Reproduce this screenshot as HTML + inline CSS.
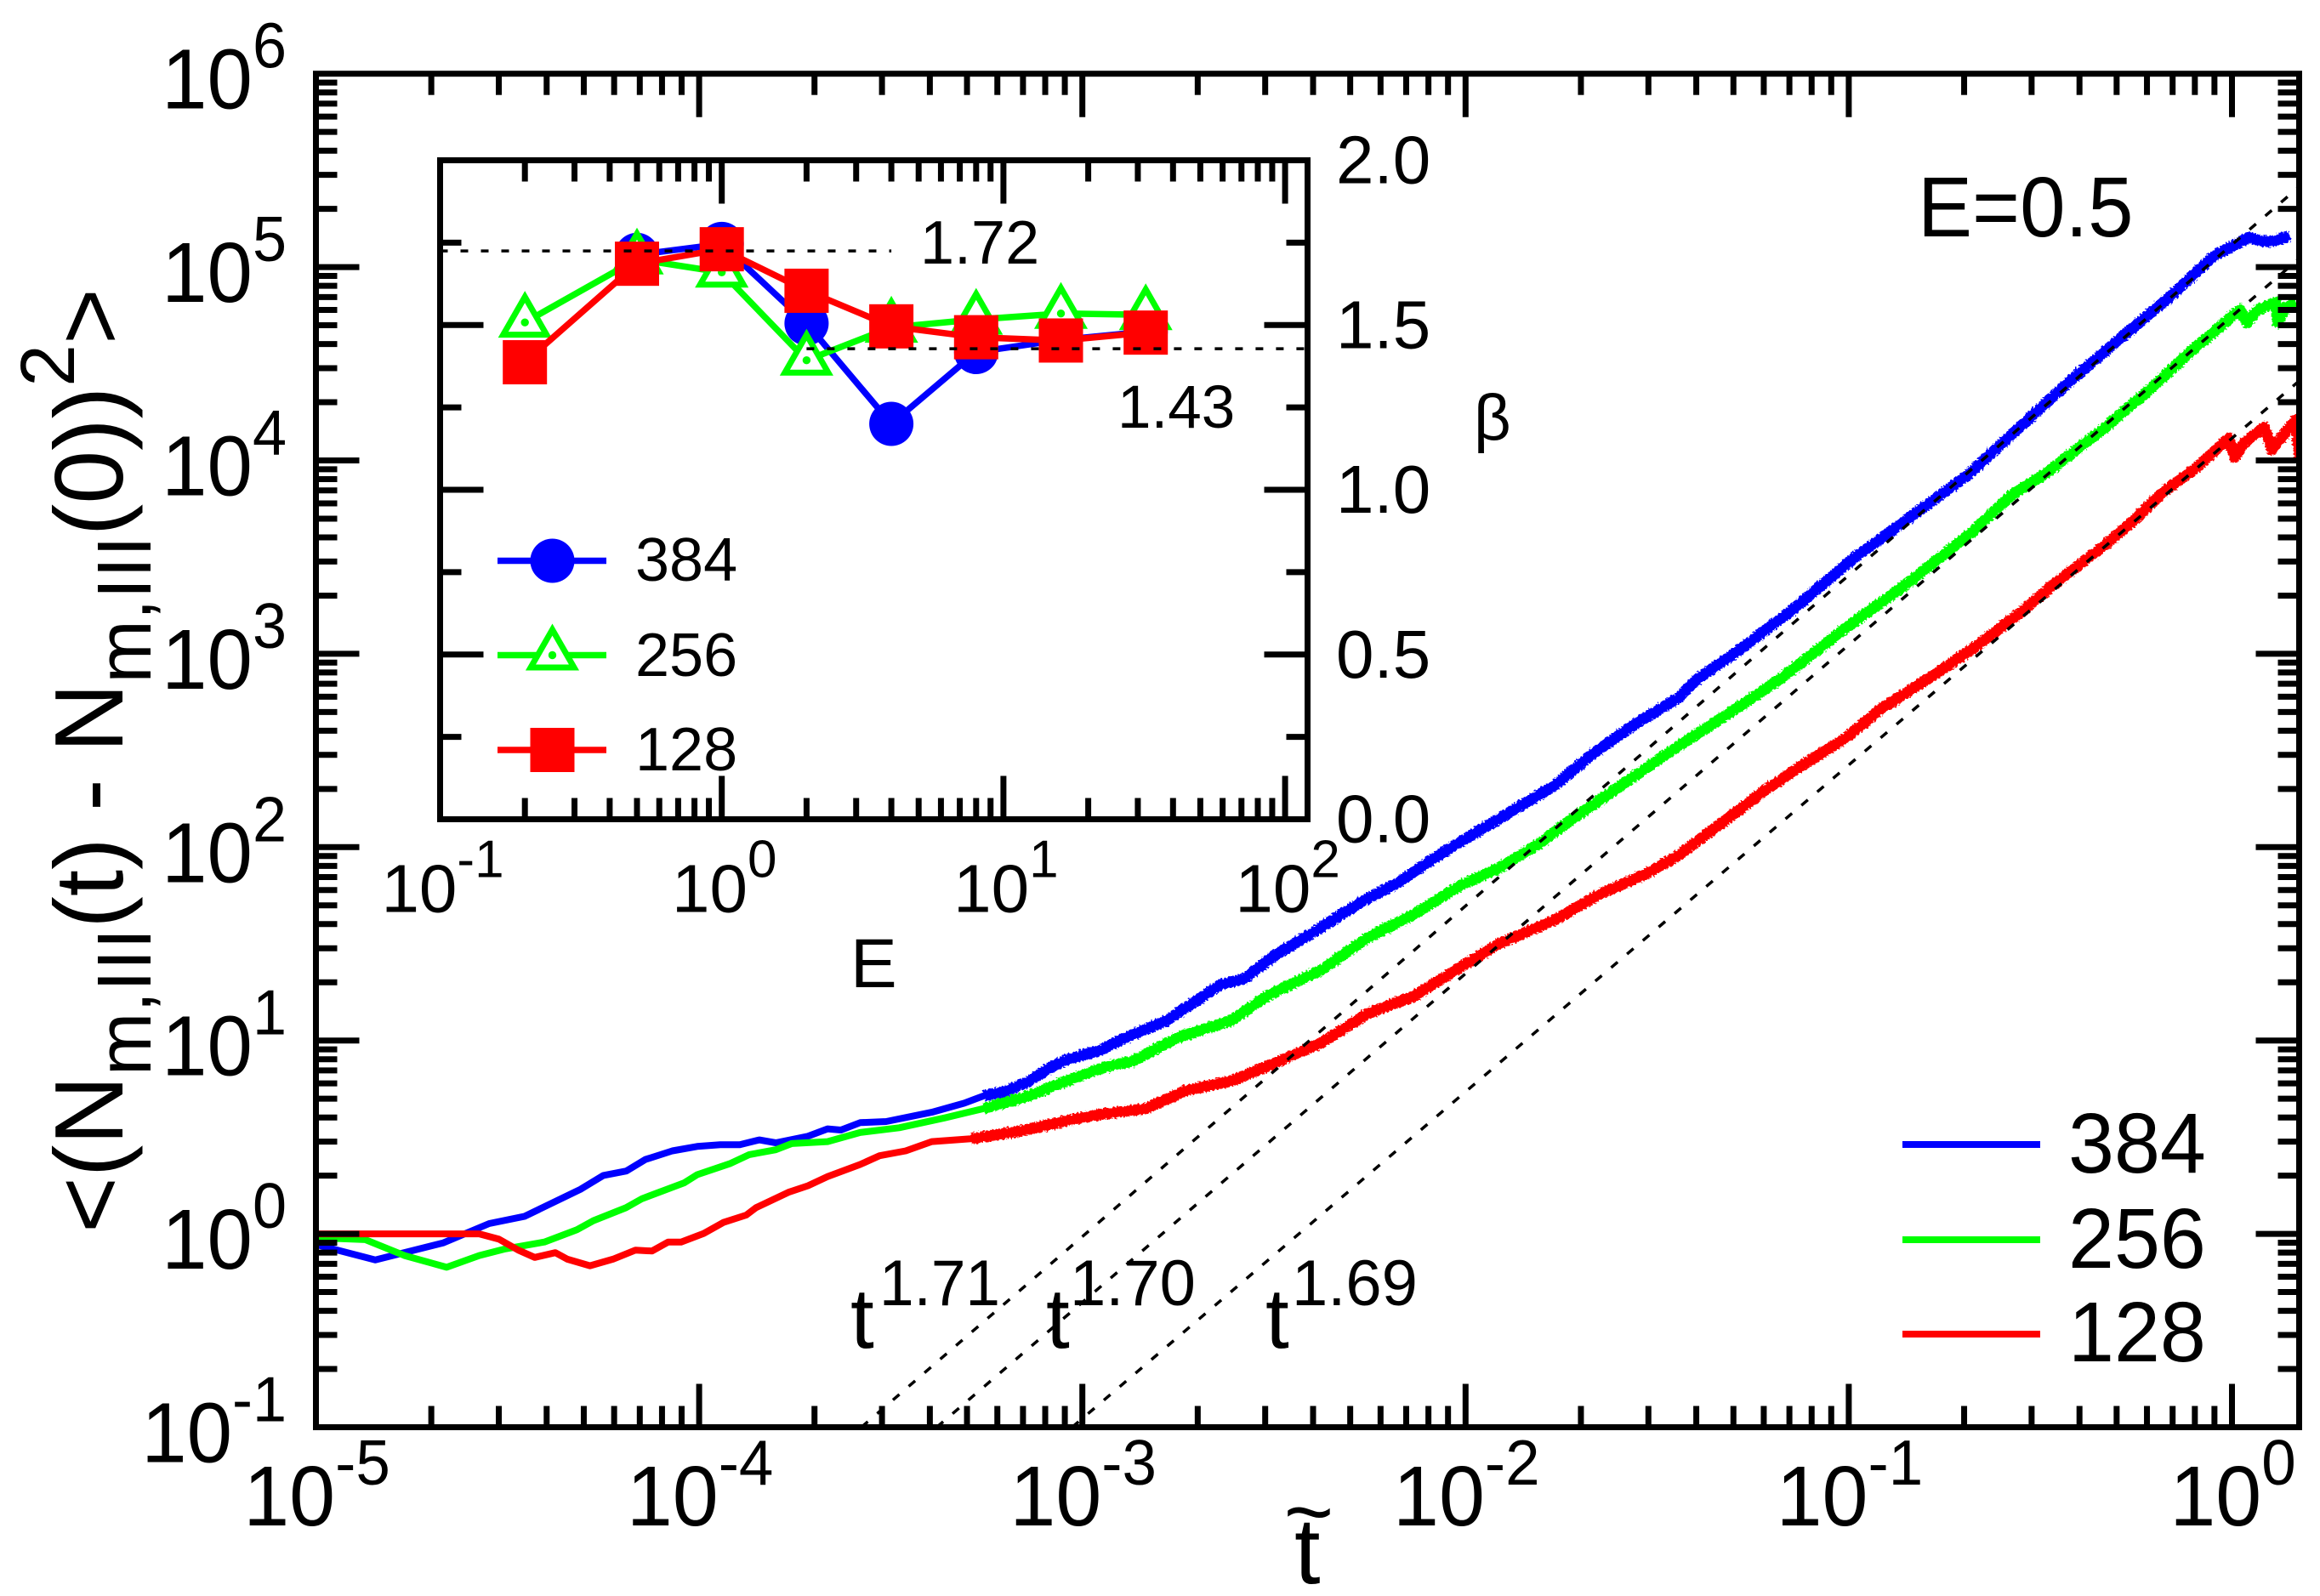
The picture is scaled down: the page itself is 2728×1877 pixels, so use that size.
<!DOCTYPE html>
<html lang="en">
<head>
<meta charset="utf-8">
<title>Number fluctuation chart</title>
<style>
html,body{margin:0;padding:0;background:#fff;}
svg{display:block;font-family:"Liberation Sans",sans-serif;fill:#000;}
</style>
</head>
<body>
<svg id="chart" xmlns="http://www.w3.org/2000/svg" width="2728" height="1877" viewBox="0 0 2728 1877">
  <defs>
    <clipPath id="main-clip"><rect x="371.5" y="86.7" width="2332" height="1591.8"/></clipPath>
    <filter id="fuzz" x="-5%" y="-5%" width="110%" height="110%">
      <feTurbulence type="fractalNoise" baseFrequency="0.45" numOctaves="1" seed="4" result="n"/>
      <feDisplacementMap in="SourceGraphic" in2="n" scale="7" xChannelSelector="R" yChannelSelector="G"/>
    </filter>
  </defs>
  <g id="main-curves" clip-path="url(#main-clip)"></g>
  <g id="main-fits" clip-path="url(#main-clip)"></g>
  <g id="main-axes"></g>
  <g id="inset"></g>

  <text transform="translate(144,1450) rotate(-90) scale(0.99,1)" font-size="114">&lt;(N<tspan font-size="90" dy="33">m,III</tspan><tspan dy="-33">(t) - N</tspan><tspan font-size="90" dy="33">m,III</tspan><tspan dy="-33">(0))</tspan><tspan font-size="90" dy="-57">2</tspan><tspan dy="57">&gt;</tspan></text>
  <text x="1522" y="1862" font-size="110">t</text>
  <text x="1539" y="1812" font-size="100" text-anchor="middle">~</text>

  <text transform="translate(2255,278) scale(0.96,1)" font-size="100">E=0.5</text>

  <text x="1000" y="1585" font-size="100">t</text>
  <text transform="translate(1034,1535) scale(0.96,1)" font-size="76">1.71</text>
  <text x="1230" y="1585" font-size="100">t</text>
  <text x="1258" y="1535" font-size="76">1.70</text>
  <text x="1488" y="1585" font-size="100">t</text>
  <text x="1519" y="1535" font-size="76">1.69</text>

  <g>
    <line x1="2237" x2="2399" y1="1346" y2="1346" stroke="#0000ff" stroke-width="8"/>
    <text transform="translate(2432,1379) scale(0.97,1)" font-size="100">384</text>
    <line x1="2237" x2="2399" y1="1458" y2="1458" stroke="#00ff00" stroke-width="8"/>
    <text transform="translate(2432,1491) scale(0.97,1)" font-size="100">256</text>
    <line x1="2237" x2="2399" y1="1569" y2="1569" stroke="#ff0000" stroke-width="8"/>
    <text transform="translate(2432,1601) scale(0.97,1)" font-size="100">128</text>
  </g>

  <text x="1082" y="310" font-size="72">1.72</text>
  <text x="1314" y="503" font-size="71">1.43</text>
  <text x="1733" y="517" font-size="76">β</text>
  <text x="1000" y="1161" font-size="82">E</text>
</svg>
<script>
// ---- main chart data: log10 of rescaled time and log10 of the fluctuation ----
const logTime384 = [-5,-4.845,-4.667,-4.548,-4.455,-4.31,-4.25,-4.19,-4.14,-4.07,-4.005,-3.945,-3.894,-3.843,-3.8,-3.716,-3.665,-3.63,-3.58,-3.512,-3.393,-3.308,-3.257,-3.206,-3.138,-3.087,-3.036,-2.951,-2.883,-2.78,-2.639,-2.578,-2.497,-2.396,-2.275,-2.174,-2.073,-1.972,-1.871,-1.769,-1.668,-1.547,-1.446,-1.396,-1.302,-1.15,-0.986,-0.857,-0.693,-0.576,-0.424,-0.26,-0.155,-0.049,0.044,0.08,0.109,0.15];
const logValue384 = [-0.055,-0.135,-0.046,0.053,0.091,0.23,0.302,0.325,0.385,0.429,0.452,0.461,0.461,0.486,0.471,0.505,0.543,0.537,0.575,0.581,0.629,0.676,0.714,0.733,0.79,0.856,0.904,0.951,1.018,1.103,1.29,1.32,1.441,1.562,1.713,1.819,1.955,2.076,2.196,2.317,2.483,2.65,2.77,2.869,2.996,3.222,3.496,3.682,3.918,4.133,4.408,4.682,4.859,5.055,5.153,5.133,5.133,5.163];
const logTime256 = [-5,-4.871,-4.769,-4.659,-4.574,-4.506,-4.404,-4.319,-4.276,-4.191,-4.149,-4.09,-4.039,-4.005,-3.92,-3.869,-3.8,-3.758,-3.665,-3.58,-3.478,-3.359,-3.257,-3.138,-3.019,-2.934,-2.867,-2.748,-2.612,-2.518,-2.376,-2.255,-2.134,-2.012,-1.911,-1.81,-1.729,-1.628,-1.486,-1.345,-1.264,-1.173,-1.021,-0.857,-0.681,-0.576,-0.482,-0.33,-0.213,-0.096,-0.037,0.021,0.039,0.068,0.115,0.12,0.138,0.167];
const logValue256 = [-0.02,-0.03,-0.112,-0.173,-0.112,-0.078,-0.042,0.021,0.068,0.135,0.182,0.226,0.264,0.306,0.363,0.41,0.435,0.467,0.477,0.524,0.549,0.6,0.648,0.714,0.809,0.866,0.894,1.018,1.103,1.23,1.366,1.532,1.653,1.804,1.894,2.015,2.136,2.272,2.468,2.65,2.755,2.878,3.114,3.349,3.624,3.82,3.937,4.173,4.369,4.584,4.682,4.78,4.712,4.78,4.816,4.712,4.79,4.816];
const logTime128 = [-5,-4.574,-4.523,-4.472,-4.429,-4.375,-4.344,-4.285,-4.225,-4.166,-4.123,-4.081,-4.047,-3.988,-3.937,-3.877,-3.852,-3.767,-3.716,-3.665,-3.58,-3.529,-3.461,-3.393,-3.291,-3.155,-3.053,-2.951,-2.832,-2.73,-2.612,-2.496,-2.376,-2.255,-2.134,-2.012,-1.911,-1.769,-1.648,-1.527,-1.446,-1.325,-1.223,-1.122,-1.001,-0.92,-0.787,-0.67,-0.553,-0.459,-0.33,-0.26,-0.178,-0.096,-0.008,0.007,0.033,0.085,0.103,0.167,0.176];
const logValue128 = [0,0,-0.027,-0.084,-0.122,-0.097,-0.131,-0.165,-0.131,-0.084,-0.089,-0.042,-0.042,0.002,0.059,0.097,0.135,0.215,0.249,0.296,0.359,0.404,0.429,0.477,0.492,0.534,0.581,0.619,0.648,0.742,0.79,0.885,0.988,1.139,1.23,1.381,1.502,1.622,1.758,1.864,1.955,2.136,2.287,2.423,2.574,2.71,2.878,3.035,3.212,3.369,3.565,3.682,3.839,3.957,4.114,4.016,4.094,4.173,4.055,4.212,3.996];

// power-law fits: exponent and log10 prefactor
const fitExponents = [1.71, 1.70, 1.69];
const fitPrefactors = [5.116, 4.746, 4.115];

const mainXDecades = [-5,-4,-3,-2,-1,0];
const mainYDecades = [-1,0,1,2,3,4,5,6];
const mainXTickLabels = ['-5','-4','-3','-2','-1','0'];
const mainYTickLabels = ['-1','0','1','2','3','4','5','6'];

// ---- inset data ----
const insetE384 = [0.5,1,2,4,8,16,32];
const insetBeta384 = [1.713,1.746,1.505,1.2,1.418,1.455,1.48];
const insetE256 = [0.2,0.5,1,2,4,8,16,32];
const insetBeta256 = [1.508,1.70,1.66,1.393,1.493,1.517,1.535,1.531];
const insetE128 = [0.2,0.5,1,2,4,8,16,32];
const insetBeta128 = [1.387,1.686,1.73,1.604,1.496,1.463,1.453,1.477];
const insetRefBetas = [1.725, 1.428];
const insetRefRanges = [[0.1,4],[2,120]];
const insetXDecades = [-1,0,1,2];
const insetXTickLabels = ['-1','0','1','2'];
const insetYTicks = [0,0.25,0.5,0.75,1,1.25,1.5,1.75,2];
const insetYTickLabels = ['0.0','','0.5','','1.0','','1.5','','2.0'];

const NS = 'http://www.w3.org/2000/svg';
const BLUE = '#0000ff', GREEN = '#00ff00', RED = '#ff0000';

// main axes functions
const mainLeft = 371.5, mainRight = 2703.5, mainTop = 86.7, mainBottom = 1678.5;
const mainX = v => 2624.5 + v * 450.6;
const mainY = v => mainBottom - (v + 1) * (mainBottom - mainTop) / 7;
// inset axes functions
const insetLeft = 517.5, insetRight = 1537.5, insetTop = 188.5, insetBottom = 963.5;
const insetX = e => insetLeft + (Math.log10(e) + 1) * 331.2;
const insetY = b => insetBottom - b * (insetBottom - insetTop) / 2;

function make(tag, parent, attrs) {
  const el = document.createElementNS(NS, tag);
  for (const k in attrs) el.setAttribute(k, attrs[k]);
  parent.appendChild(el);
  return el;
}
function pointsOf(xs, ys, fx, fy) {
  return xs.map((x, i) => fx(x).toFixed(1) + ',' + fy(ys[i]).toFixed(1)).join(' ');
}

// ---- main curves ----
const curvesG = document.getElementById('main-curves');
const mainSeries = [
  ['384', logTime384, logValue384, BLUE],
  ['256', logTime256, logValue256, GREEN],
  ['128', logTime128, logValue128, RED]
];
mainSeries.forEach(s => {
  const line = make('polyline', curvesG, {points: pointsOf(s[1], s[2], mainX, mainY), fill: 'none', stroke: s[3], 'stroke-width': 8, 'stroke-linejoin': 'round'});
  
  
  // noisy part of the trajectory appears thicker
  const xs = [], ys = [];
  s[1].forEach((t, i) => { if (t > -3.3) { xs.push(t); ys.push(s[2][i]); } });
  const noisy = make('polyline', curvesG, {points: pointsOf(xs, ys, mainX, mainY), fill: 'none', stroke: s[3], 'stroke-width': 13, 'stroke-linejoin': 'round', filter: 'url(#fuzz)'});
  
  
});

// ---- power-law fit lines ----
const fitsG = document.getElementById('main-fits');
fitExponents.forEach((ex, i) => {
  const t0 = (-1 - fitPrefactors[i]) / ex, t1 = Math.log10(1.5);
  const fit = make('line', fitsG, {x1: mainX(t0), y1: mainY(ex * t0 + fitPrefactors[i]), x2: mainX(t1), y2: mainY(ex * t1 + fitPrefactors[i]), stroke: '#000', 'stroke-width': 3.5, 'stroke-dasharray': '10 14.5'});
  
  
});

// ---- generic frame / tick drawing ----
function tick(parent, x1, y1, x2, y2, name) {
  const t = make('line', parent, {x1, y1, x2, y2, stroke: '#000', 'stroke-width': 7});
  
  
}
function frame(parent, l, t, r, b, name) {
  const f = make('rect', parent, {x: l, y: t, width: r - l, height: b - t, fill: 'none', stroke: '#000', 'stroke-width': 7});
  
  
}
function label(parent, x, y, base, size, sup, supSize, rise, anchor, name, sx) {
  const t = make('text', parent, {transform: 'translate(' + x + ',' + y + ') scale(' + (sx || 1) + ',1)', 'font-size': size, 'text-anchor': anchor});
  
  
  t.appendChild(document.createTextNode(base));
  if (sup !== '') {
    const s = make('tspan', t, {'font-size': supSize, dy: -rise});
    s.textContent = sup;
  }
}
const MAJOR = 51, MINOR = 25;

// ---- main axes ----
const axesG = document.getElementById('main-axes');
const minorMultipliers = [2,3,4,5,6,7,8,9];
mainXDecades.forEach((d, i) => {
  const x = mainX(d);
  tick(axesG, x, mainBottom, x, mainBottom - MAJOR, 'x-major-tick-bottom');
  tick(axesG, x, mainTop, x, mainTop + MAJOR, 'x-major-tick-top');
  label(axesG, x + 1, 1794, '10', 100, mainXTickLabels[i], 75, 48, 'middle', 'x-tick-label', 0.97);
  minorMultipliers.forEach(m => {
    const mx = mainX(d + Math.log10(m));
    if (mx < mainRight - 4) {
      tick(axesG, mx, mainBottom, mx, mainBottom - MINOR, 'x-minor-tick-bottom');
      tick(axesG, mx, mainTop, mx, mainTop + MINOR, 'x-minor-tick-top');
    }
  });
});
mainYDecades.forEach((d, i) => {
  const y = mainY(d);
  if (d > -1 && d < 6) {
    tick(axesG, mainLeft, y, mainLeft + MAJOR, y, 'y-major-tick-left');
    tick(axesG, mainRight, y, mainRight - MAJOR, y, 'y-major-tick-right');
  }
  label(axesG, 337, y + 41, '10', 100, mainYTickLabels[i], 75, 48, 'end', 'y-tick-label', 0.96);
  if (d < 6) minorMultipliers.forEach(m => {
    const my = mainY(d + Math.log10(m));
    tick(axesG, mainLeft, my, mainLeft + MINOR, my, 'y-minor-tick-left');
    tick(axesG, mainRight, my, mainRight - MINOR, my, 'y-minor-tick-right');
  });
});
frame(axesG, mainLeft, mainTop, mainRight, mainBottom, 'main-plot-frame');

// ---- inset ----
const insetG = document.getElementById('inset');
function circleMarker(parent, cx, cy, name) {
  const c = make('circle', parent, {cx, cy, r: 26, fill: BLUE});
  
  
}
function triangleMarker(parent, cx, cy, name) {
  const p = make('polygon', parent, {points: [cx, cy - 30, cx + 25.5, cy + 14.5, cx - 25.5, cy + 14.5].join(','), fill: '#fff', stroke: GREEN, 'stroke-width': 7, 'stroke-linejoin': 'miter'});
  
  
  const d = make('circle', parent, {cx, cy, r: 4.7, fill: GREEN});
  
  
}
function squareMarker(parent, cx, cy, name) {
  const r = make('rect', parent, {x: cx - 26, y: cy - 26, width: 52, height: 52, fill: RED});
  
  
}
const insetSeries = [
  ['384', insetE384, insetBeta384, BLUE, circleMarker],
  ['256', insetE256, insetBeta256, GREEN, triangleMarker],
  ['128', insetE128, insetBeta128, RED, squareMarker]
];
insetSeries.forEach(s => {
  const line = make('polyline', insetG, {points: pointsOf(s[1], s[2], insetX, insetY), fill: 'none', stroke: s[3], 'stroke-width': 7.5});
  
  
  s[1].forEach((e, i) => s[4](insetG, insetX(e), insetY(s[2][i]), 'inset-point-' + s[0]));
});
insetRefBetas.forEach((b, i) => {
  const ref = make('line', insetG, {x1: insetX(insetRefRanges[i][0]), x2: insetX(insetRefRanges[i][1]), y1: insetY(b), y2: insetY(b), stroke: '#000', 'stroke-width': 3.5, 'stroke-dasharray': '9 15'});
  
  
});
insetXDecades.forEach((d, i) => {
  const x = insetX(Math.pow(10, d));
  tick(insetG, x, insetBottom, x, insetBottom - MAJOR, 'inset-x-major-tick-bottom');
  tick(insetG, x, insetTop, x, insetTop + MAJOR, 'inset-x-major-tick-top');
  label(insetG, x + 3, 1072.7, '10', 80, insetXTickLabels[i], 62, 41, 'middle', 'inset-x-tick-label');
  if (d < 2) minorMultipliers.forEach(m => {
    const mx = insetX(m * Math.pow(10, d));
    tick(insetG, mx, insetBottom, mx, insetBottom - MINOR, 'inset-x-minor-tick-bottom');
    tick(insetG, mx, insetTop, mx, insetTop + MINOR, 'inset-x-minor-tick-top');
  });
});
insetYTicks.forEach((b, i) => {
  const y = insetY(b);
  const major = insetYTickLabels[i] !== '';
  const len = major ? MAJOR : MINOR;
  if (b > 0 && b < 2) {
    tick(insetG, insetLeft, y, insetLeft + len, y, 'inset-y-tick-left');
    tick(insetG, insetRight, y, insetRight - len, y, 'inset-y-tick-right');
  }
  if (major) label(insetG, 1571, y + 27, insetYTickLabels[i], 80, '', 0, 0, 'start', 'inset-y-tick-label');
});
frame(insetG, insetLeft, insetTop, insetRight, insetBottom, 'inset-plot-frame');

// inset legend
const legendRows = [['384', 659.5, 683, BLUE, circleMarker], ['256', 770.5, 795, GREEN, triangleMarker], ['128', 882, 906, RED, squareMarker]];
const legendG = make('g', insetG, {});


legendRows.forEach(r => {
  const l = make('line', legendG, {x1: 585, x2: 713, y1: r[1], y2: r[1], stroke: r[3], 'stroke-width': 7.5});
  
  
  r[4](legendG, 649.5, r[1], 'inset-legend-marker-' + r[0]);
  label(legendG, 747, r[2], r[0], 72, '', 0, 0, 'start', 'inset-legend-label-' + r[0]);
});
</script>
</body>
</html>
